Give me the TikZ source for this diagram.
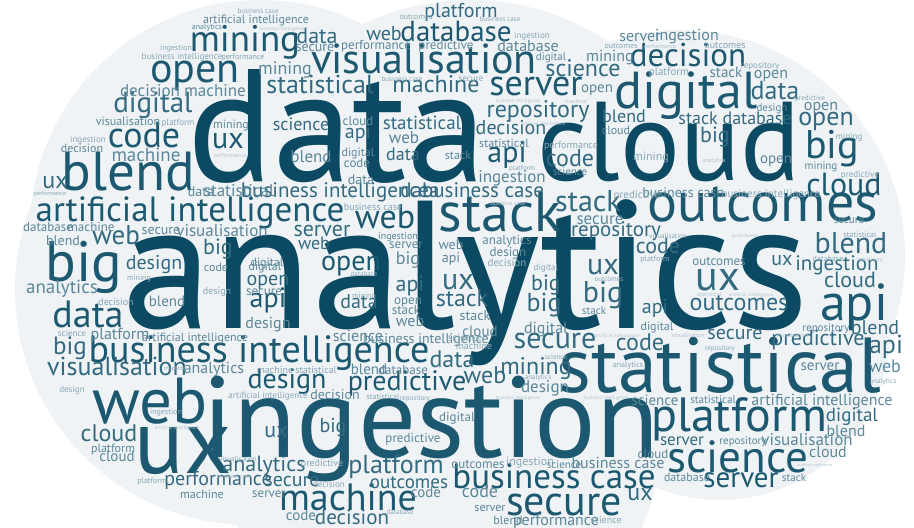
\documentclass[tikz,border=0pt]{standalone}
\usepackage{fontspec}
\setmainfont{PT Sans}
\usepackage{tikz}

\definecolor{cloudbg}{HTML}{EFF3F5}
\definecolor{wc1}{HTML}{0B4A62}
\definecolor{wc2}{HTML}{1C5970}
\definecolor{wc3}{HTML}{336A80}
\definecolor{wc4}{HTML}{5C8799}
\definecolor{wc5}{HTML}{88A7B5}
\definecolor{wc6}{HTML}{B0C4CD}

\begin{document}
\begin{tikzpicture}[x=1pt,y=-1pt,
    word/.style={anchor=base,inner sep=0pt,font=\fontsize{#1}{#1}\selectfont}]

  \useasboundingbox (0,0) rectangle (914,528);

  \tikzstyle{lobe}=[fill=cloudbg,draw=none]
  \fill[lobe] (260,230) circle (230);
  \fill[lobe] (250,290) circle (235);
  \fill[lobe] (470,250) circle (250);
  \fill[lobe] (680,255) circle (225);
  \fill[lobe] (720,330) circle (170);
  \fill[lobe] (440,440) circle (220);

  \foreach \x/\y/\s/\c/\t [count=\i] in {
    466/328/182/1/analytics, 337/181/160/1/data, 669/180/112/1/cloud,
    431/457/115/2/ingestion, 720/392/78/2/statistical, 763/221/56/2/outcomes,
    739/431/48/2/platform, 738/472/45/2/science, 554/488/35/2/business case,
    564/515/42/2/secure, 348/510/38/2/machine, 259/362/38/2/business intelligence,
    190/221/35/2/artificial intelligence, 128/190/55/2/blend, 84/281/57/2/big,
    150/423/65/2/web, 183/473/92/2/ux, 88/327/38/2/data, 287/388/28/2/design,
    407/390/28/2/predictive, 245/51/37/2/mining, 195/82/42/2/open, 144/147/36/2/code,
    424/73/42/2/visualisation, 686/108/52/2/digital, 688/66/33/2/decision,
    536/95/36/2/server, 456/41/29/2/database, 500/231/56/2/stack, 854/320/52/2/api,
    832/158/40/2/big, 844/195/32/2/cloud, 507/162/30/2/api, 228/148/30/2/ux,
    268/307/28/2/api, 385/228/34/2/web, 351/270/28/2/open, 603/302/30/3/big,
    718/290/42/3/ux, 741/487/29/2/server,
    320/93/26/3/statistical, 153/112/29/3/digital, 335/197/21/3/business intelligence,
    420/197/21/3/data, 483/197/21/3/business case, 322/236/22/3/server, 116/244/27/3/web,
    154/269/20/3/design, 218/254/22/3/big, 314/249/18/3/web, 62/293/19/4/analytics,
    70/354/25/3/big, 117/375/26/3/visualisation, 109/441/24/3/cloud,
    218/485/20/3/performance, 264/471/22/3/analytics, 292/486/20/3/secure,
    352/524/21/3/decision, 396/473/26/3/platform, 409/488/19/3/outcomes,
    333/432/20/3/big, 276/437/22/3/ux, 359/308/20/3/data, 268/285/20/3/open,
    410/291/22/3/api, 458/289/30/3/ux, 462/306/24/3/stack, 452/367/24/3/data,
    485/383/24/3/web, 536/374/24/3/mining, 555/348/30/3/secure, 546/290/22/3/big,
    544/311/26/3/big, 603/274/30/3/ux, 655/313/20/3/api, 640/350/24/3/code,
    782/265/20/3/ux, 837/270/21/3/ingestion, 850/287/22/3/cloud,
    739/310/24/3/outcomes, 875/334/20/3/blend, 735/339/20/3/secure,
    818/345/22/3/predictive, 886/353/26/3/api, 852/421/19/3/digital,
    682/445/17/3/server, 640/500/24/3/ux, 461/17/20/3/platform, 384/40/20/3/web,
    436/92/24/3/machine, 583/76/24/3/science, 775/99/26/3/data, 826/125/26/3/open,
    735/124/18/3/stack database, 538/117/24/3/repository, 624/122/18/3/blend,
    511/134/20/3/decision, 570/166/24/3/code, 715/142/22/3/big, 588/211/30/3/stack,
    616/236/21/3/repository, 851/253/30/3/blend, 658/253/22/3/code,
    301/130/18/3/science, 358/138/20/3/api, 422/129/19/3/statistical,
    403/160/18/3/data, 317/43/22/3/data, 55/188/24/3/ux,
    256/23/12/4/artificial intelligence, 207/29/8/4/analytics, 315/51/14/4/secure,
    285/74/18/4/mining, 150/96/17/4/decision, 215/96/17/4/machine,
    128/125/12/4/visualisation, 82/152/12/4/decision, 146/161/19/4/machine,
    201/196/14/4/data, 239/196/17/4/statistical, 48/231/13/4/database,
    91/231/13/4/machine, 161/234/14/4/secure, 222/236/17/4/visualisation,
    63/245/14/4/blend, 265/270/12/4/digital, 398/239/10/4/ingestion,
    406/248/13/4/server, 408/264/18/4/big, 451/249/14/4/web, 451/262/14/4/api,
    216/271/12/4/code, 217/294/10/5/design, 167/306/15/4/blend,
    120/339/16/4/platform, 195/341/12/4/artificial intelligence,
    214/373/16/4/analytics, 335/399/14/4/decision, 113/452/12/4/platform,
    117/461/15/4/cloud, 202/498/12/4/machine, 301/520/15/4/code,
    269/497/13/4/server, 426/497/15/4/code, 413/442/13/4/predictive,
    358/341/16/4/science, 426/343/14/4/business intelligence, 369/374/15/4/blend,
    403/374/13/4/database, 457/421/13/4/digital, 264/295/13/4/secure,
    268/328/16/4/design, 267/266/12/4/digital, 408/304/13/4/open, 406/314/13/4/stack,
    410/326/16/4/web, 475/320/14/4/stack, 480/336/15/4/cloud, 465/341/11/5/science,
    474/349/10/5/machine, 545/392/17/4/design, 546/333/16/4/digital,
    594/314/11/4/stack, 657/330/12/4/digital, 655/405/15/4/science,
    713/403/11/4/statistical, 822/405/16/4/artificial intelligence,
    846/436/16/4/blend, 743/444/11/4/repository, 807/445/17/4/visualisation,
    828/457/16/4/cloud, 653/458/13/4/cloud, 687/481/12/4/database,
    794/481/11/4/stack, 478/468/13/4/outcomes, 530/465/12/5/ingestion,
    564/468/11/4/science, 618/468/16/4/business case, 480/497/18/4/code,
    490/511/12/4/server, 508/524/12/4/blend, 556/525/16/4/performance,
    606/523/10/5/science, 826/331/11/4/repository, 820/370/15/4/server,
    885/372/18/4/web, 883/383/7/5/analytics, 528/51/16/4/database,
    551/60/11/4/digital, 610/61/16/4/mining, 640/41/16/4/server,
    687/40/16/4/ingestion, 726/77/15/4/stack, 771/78/16/4/open,
    772/111/11/4/design, 821/110/16/4/open, 597/92/15/4/open, 616/134/12/4/cloud,
    504/147/12/4/statistical, 570/175/11/4/science, 776/163/15/4/open,
    821/169/11/4/mining, 512/182/17/4/ingestion, 683/197/14/4/business case,
    771/197/11/5/business intelligence, 600/224/17/4/secure, 849/223/11/4/secure,
    507/244/13/4/analytics, 508/256/13/4/design, 719/265/13/4/outcomes,
    311/162/17/4/blend, 231/128/12/4/mining, 358/125/13/4/cloud,
    358/156/12/4/digital, 357/167/13/4/code, 361/184/14/4/data, 404/143/17/4/web,
    458/159/12/4/stack, 376/49/13/4/performance, 446/49/13/4/predictive,
    258/13/7/5/business case, 282/30/5/6/business intelligence, 176/50/8/5/ingestion,
    182/59/9/5/business intelligence, 243/59/8/5/performance, 178/125/9/5/platform,
    88/142/9/5/ingestion, 50/195/6/5/performance, 373/210/10/5/business case,
    139/280/8/5/mining, 116/305/10/5/decision, 72/336/9/5/science,
    175/370/6/5/machine, 72/392/9/5/design, 275/373/10/5/machine,
    316/373/10/5/statistical, 268/398/9/5/artificial intelligence,
    166/414/8/5/ingestion, 177/429/5/6/artificial intelligence,
    152/483/8/5/platform, 322/466/10/5/predictive, 238/461/7/5/visualisation,
    234/478/6/6/business case, 329/487/9/5/decision, 400/514/7/5/database,
    364/276/7/5/database, 364/298/8/5/mining, 230/157/6/6/performance,
    383/399/8/5/statistical, 415/400/7/5/repository, 546/270/9/5/digital,
    609/281/7/5/outcomes, 538/379/7/5/analytics, 556/359/7/5/science,
    628/367/8/5/analytics, 617/337/5/6/artificial intelligence,
    688/337/6/6/visualisation, 709/296/6/6/statistical,
    751/296/5/6/artificial intelligence, 792/337/6/6/visualisation,
    720/350/7/5/repository, 518/399/5/6/business intelligence,
    606/399/5/6/business intelligence, 815/466/4/6/artificial intelligence,
    500/21/7/5/business case, 416/19/8/5/outcomes, 402/81/7/5/business case,
    471/81/9/5/secure, 532/38/9/5/ingestion, 621/48/8/5/outcomes,
    660/48/6/6/performance, 725/48/10/5/outcomes, 669/75/11/5/platform,
    760/68/9/5/repository, 810/100/7/5/predictive,
    518/102/5/6/business intelligence, 576/103/6/6/machine,
    543/125/5/6/artificial intelligence, 571/148/10/5/performance,
    522/170/7/5/platform, 651/160/12/5/mining, 714/162/6/6/analytics,
    849/139/9/5/mining, 860/177/9/5/predictive, 637/198/11/5/predictive,
    508/205/6/6/business case, 668/238/7/5/visualisation,
    745/237/5/6/performance, 860/237/8/5/statistical, 655/261/8/5/platform,
    828/261/8/5/database, 870/261/6/6/repository, 507/266/11/5/decision}
    \node[word=\s,text=wc\c] (w\i) at (\x,\y) {\t};

\end{tikzpicture}
\end{document}
